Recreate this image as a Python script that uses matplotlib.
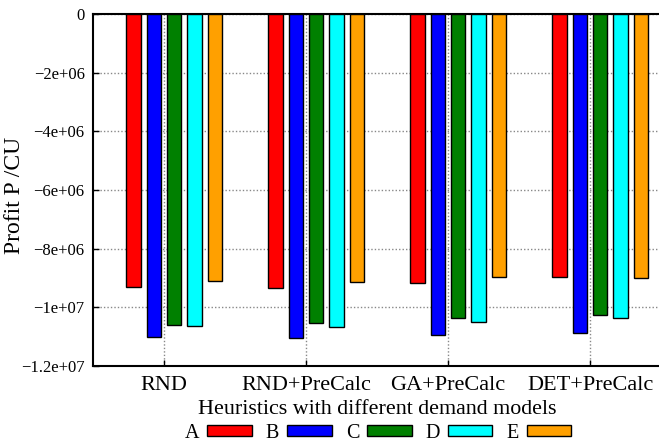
import matplotlib
matplotlib.use("Agg")
import matplotlib.pyplot as plt
import numpy as np
from matplotlib.patches import Patch

plt.rcParams['font.family'] = ['Liberation Serif', 'DejaVu Serif']

groups = ["RND", "RND+PreCalc", "GA+PreCalc", "DET+PreCalc"]
series = ["A", "B", "C", "D", "E"]
colors = ["#ff0000", "#0000ff", "#008000", "#00ffff", "#ffa000"]
A = [-9.31e6, -9.34e6, -9.17e6, -8.98e6]
B = [-11.01e6, -11.03e6, -10.94e6, -10.88e6]
C = [-10.61e6, -10.54e6, -10.36e6, -10.26e6]
D = [-10.63e6, -10.68e6, -10.50e6, -10.36e6]
E = [-9.10e6, -9.15e6, -8.98e6, -9.01e6]
values = [A, B, C, D, E]
yticks = [0, -2e6, -4e6, -6e6, -8e6, -1e7, -1.2e7]
ytick_labels = ["0", "\u22122e+06", "\u22124e+06", "\u22126e+06", "\u22128e+06", "\u22121e+07", "\u22121.2e+07"]

fig = plt.figure(figsize=(6.59, 4.47), dpi=100)
ax = fig.add_axes([93/659, 1-366/447, 568/659, 352/447])

x = np.arange(len(groups))
slot = 1/7
for j, (s, vals, c) in enumerate(zip(series, values, colors)):
    ax.bar(x + (j - 1.5)*slot, vals, width=0.7*slot, color=c, edgecolor='black',
           linewidth=1.0, zorder=3, label=s)

ax.set_xlim(-0.5, 3.5)
ax.set_ylim(-1.2e7, 0)
ax.set_xticks(x)
ax.set_xticklabels(groups, fontsize=16)
ax.set_yticks(yticks)
ax.set_yticklabels(ytick_labels, fontsize=12)
ax.tick_params(direction='in', length=4, width=1, color='black')
ax.tick_params(axis='x', pad=7)
ax.tick_params(axis='y', pad=6)
ax.grid(True, linestyle=(0, (1, 1.5)), color='#888888', linewidth=1.0, zorder=0)
ax.set_axisbelow(True)
for sp in ['left', 'bottom', 'top']:
    ax.spines[sp].set_linewidth(1.5)
ax.spines['right'].set_visible(False)

ax.set_ylabel("Profit P /CU", fontsize=17)
ax.yaxis.set_label_coords((25-93)/568, (366-195)/352)
ax.set_xlabel("Heuristics with different demand models", fontsize=15.8, labelpad=4)

handles = [Patch(facecolor=c, edgecolor='black', linewidth=1.0) for c in colors]
fig.legend(handles, series, loc='center', bbox_to_anchor=(378/659, 1-433/447), ncol=5,
           markerfirst=False, frameon=False, fontsize=14.5, handlelength=2.2,
           handleheight=0.45, columnspacing=0.7, handletextpad=0.4)

fig.savefig("out.png", dpi=100)
